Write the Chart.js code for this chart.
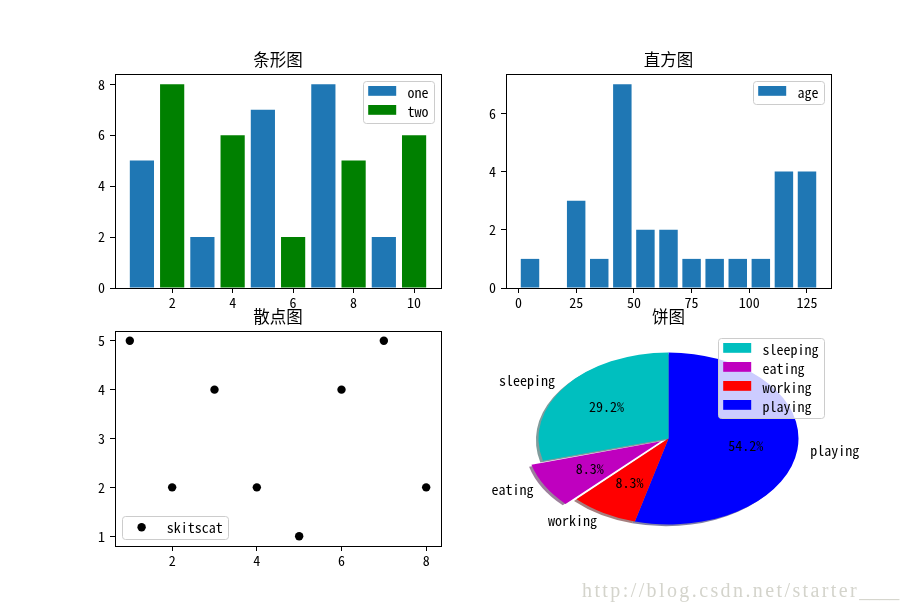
<!DOCTYPE html>
<html>
<head>
<meta charset="utf-8">
<script src="https://cdn.jsdelivr.net/npm/chart.js@4.4.1/dist/chart.umd.min.js"></script>
<style>
body { margin: 0; background: #fff; }
#fig { position: relative; width: 923px; height: 613px; overflow: hidden; }
#fig canvas { position: absolute; left: 0; top: 0; }
#mark { position: absolute; left: 582px; top: 579px; font: 20px "Liberation Serif", serif; color: #d4d4cc; letter-spacing: 2.4px; white-space: nowrap; }
#mark span { letter-spacing: 0; }
</style>
</head>
<body>
<div id="fig">
  <canvas id="bar" width="923" height="613"></canvas>
  <canvas id="hist" width="923" height="613"></canvas>
  <canvas id="scat" width="923" height="613"></canvas>
  <canvas id="pie" width="923" height="613"></canvas>
  <div id="mark">http://blog.csdn.net/starter<span>____</span></div>
</div>
<script>
// --- data ---
const barTitle = '条形图';
const oneX = [1, 3, 5, 7, 9];
const oneY = [5, 2, 7, 8, 2];
const twoX = [2, 4, 6, 8, 10];
const twoY = [8, 6, 2, 5, 6];
const barXTicks = [2, 4, 6, 8, 10];
const barYTicks = [0, 2, 4, 6, 8];

const histTitle = '直方图';
const histEdges = [0, 10, 20, 30, 40, 50, 60, 70, 80, 90, 100, 110, 120, 130];
const histCounts = [1, 0, 3, 1, 7, 2, 2, 1, 1, 1, 1, 4, 4];
const histXTicks = [0, 25, 50, 75, 100, 125];
const histYTicks = [0, 2, 4, 6];

const scatTitle = '散点图';
const scatX = [1, 2, 3, 4, 5, 6, 7, 8];
const scatY = [5, 2, 4, 2, 1, 4, 5, 2];
const scatXTicks = [2, 4, 6, 8];
const scatYTicks = [1, 2, 3, 4, 5];

const pieTitle = '饼图';
const pieLabels = ['sleeping', 'eating', 'working', 'playing'];
const pieValues = [7, 2, 2, 13];
const pieColors = ['#00bfbf', '#bf00bf', '#ff0000', '#0000ff'];
const pieExplode = [0, 0.1, 0, 0];

// --- look ---
const FAMILY = '"Noto Sans Mono CJK SC", "Noto Sans CJK SC", sans-serif';
const FS = 14;
Chart.defaults.font.family = FAMILY;
Chart.defaults.font.size = FS;
Chart.defaults.color = '#000';

// matplotlib 2x2 subplot grid (left .125, right .9, bottom .11, top .88, spacing .2)
const W = 923, H = 613;
function axRect(row, col) {
  const cw = 0.775 * W / 2.2, ch = 0.77 * H / 2.2;
  const left = 0.125 * W + col * cw * 1.2;
  const top = 0.12 * H + row * ch * 1.2;
  return { left: Math.round(left), top: Math.round(top), right: Math.round(left + cw), bottom: Math.round(top + ch) };
}
const YW = 40, XH = 30;
function padFor(r, withAxes) {
  return {
    left: r.left - (withAxes ? YW : 0), top: r.top,
    right: W - r.right, bottom: H - r.bottom - (withAxes ? XH : 0)
  };
}

function axis(min, max, ticks, isY) {
  return {
    type: 'linear', min: min, max: max, offset: false,
    grid: { drawOnChartArea: false, drawTicks: true, tickLength: 5, color: '#000', offset: false },
    border: { display: false },
    ticks: { padding: isY ? 5 : 1, maxRotation: 0, autoSkip: false, font: { size: FS } },
    afterBuildTicks: s => { s.ticks = ticks.map(v => ({ value: v })); },
    afterFit: s => { if (isY) s.width = YW; else s.height = XH; }
  };
}

// title + box frame + legend, drawn the matplotlib way
const mplFrame = {
  id: 'mplFrame',
  afterDraw(chart, args, opts) {
    const a = chart.chartArea, c = chart.ctx;
    c.save();
    if (opts.box) {
      c.strokeStyle = '#000'; c.lineWidth = 1;
      c.strokeRect(Math.round(a.left) + 0.5, Math.round(a.top) + 0.5, Math.round(a.right - a.left), Math.round(a.bottom - a.top));
    }
    c.font = '16.5px ' + FAMILY;
    c.textAlign = 'center'; c.textBaseline = 'middle';
    c.fillStyle = '#000';
    c.fillText(opts.title, (a.left + a.right) / 2, a.top - 14.5);

    // legend
    let items;
    if (chart.config.type === 'pie') {
      const ds = chart.data.datasets[0];
      items = chart.data.labels.map((t, i) => ({ text: t, color: ds.backgroundColor[i], dot: false })).reverse();
    } else {
      items = chart.data.datasets.map(d => ({ text: d.label, color: d.backgroundColor, dot: chart.config.type === 'scatter' }));
    }
    c.font = FS + 'px ' + FAMILY;
    const tw = Math.max(...items.map(it => c.measureText(it.text).width));
    const pad = 0.4 * FS, hl = 2 * FS, gap = 0.8 * FS, pitch = 19;
    const bw = pad * 2 + hl + gap + tw;
    const bh = pad * 2 + items.length * pitch - 0.5 * FS;
    const bx = opts.corner === 'll' ? a.left + 7 : a.right - 7 - bw;
    const by = opts.corner === 'll' ? a.bottom - 7 - bh : a.top + 7;
    c.beginPath();
    c.roundRect(Math.round(bx) + 0.5, Math.round(by) + 0.5, Math.round(bw), Math.round(bh), 3);
    c.fillStyle = 'rgba(255,255,255,0.8)'; c.fill();
    c.strokeStyle = '#cccccc'; c.lineWidth = 1; c.stroke();
    items.forEach((it, i) => {
      const cy = by + 11.5 + i * pitch;
      c.fillStyle = it.color;
      if (it.dot) {
        c.beginPath(); c.arc(bx + pad + hl / 2, cy, 4.2, 0, Math.PI * 2); c.fill();
      } else {
        c.fillRect(bx + pad, cy - 6.5, hl, 0.7 * FS);
      }
      c.fillStyle = '#000'; c.textAlign = 'left'; c.textBaseline = 'middle';
      c.fillText(it.text, bx + pad + hl + gap, cy);
    });
    c.restore();
  }
};

const common = {
  responsive: false, animation: false, events: [],
  plugins: { legend: { display: false }, tooltip: { enabled: false } }
};

// 条形图
const rBar = axRect(0, 0);
new Chart(document.getElementById('bar'), {
  type: 'bar',
  data: {
    datasets: [
      { label: 'one', data: oneX.map((x, i) => ({ x: x, y: oneY[i] })), backgroundColor: '#1f77b4', grouped: false, barPercentage: 0.8, categoryPercentage: 1 },
      { label: 'two', data: twoX.map((x, i) => ({ x: x, y: twoY[i] })), backgroundColor: '#008000', grouped: false, barPercentage: 0.8, categoryPercentage: 1 }
    ]
  },
  options: Object.assign({}, common, {
    layout: { padding: padFor(rBar, true) },
    scales: { x: axis(0.11, 10.89, barXTicks, false), y: axis(0, 8.4, barYTicks, true) },
    plugins: Object.assign({}, common.plugins, { mplFrame: { title: barTitle, box: true, corner: 'ur' } })
  }),
  plugins: [mplFrame]
});

// 直方图
const rHist = axRect(0, 1);
new Chart(document.getElementById('hist'), {
  type: 'bar',
  data: {
    datasets: [
      { label: 'age', data: histCounts.map((n, i) => ({ x: (histEdges[i] + histEdges[i + 1]) / 2, y: n })), backgroundColor: '#1f77b4', grouped: false, barPercentage: 0.8, categoryPercentage: 1 }
    ]
  },
  options: Object.assign({}, common, {
    layout: { padding: padFor(rHist, true) },
    scales: { x: axis(-5.4, 135.4, histXTicks, false), y: axis(0, 7.35, histYTicks, true) },
    plugins: Object.assign({}, common.plugins, { mplFrame: { title: histTitle, box: true, corner: 'ur' } })
  }),
  plugins: [mplFrame]
});

// 散点图
const rScat = axRect(1, 0);
new Chart(document.getElementById('scat'), {
  type: 'scatter',
  data: {
    datasets: [
      { label: 'skitscat', data: scatX.map((x, i) => ({ x: x, y: scatY[i] })), backgroundColor: '#000', borderWidth: 0, pointRadius: 4.2 }
    ]
  },
  options: Object.assign({}, common, {
    layout: { padding: padFor(rScat, true) },
    scales: { x: axis(0.65, 8.35, scatXTicks, false), y: axis(0.8, 5.2, scatYTicks, true) },
    plugins: Object.assign({}, common.plugins, { mplFrame: { title: scatTitle, box: true, corner: 'll' } })
  }),
  plugins: [mplFrame]
});

// 饼图: Chart.js turns clockwise, matplotlib counter-clockwise, so feed it reversed
const rPie = axRect(1, 1);
const RY = (rPie.bottom - rPie.top) / 2.5, RX = (rPie.right - rPie.left) / 2.5;
const SX = RX / RY;
const total = pieValues.reduce((s, v) => s + v, 0);
const revLabels = pieLabels.slice().reverse();
const revValues = pieValues.slice().reverse();
const revColors = pieColors.slice().reverse();
const revExplode = pieExplode.slice().reverse();
// Chart.js moves an arc by offset/4*(2-sin(circ)); undo that so the shift is explode*R
const revOffset = revValues.map((v, i) => {
  const circ = 2 * Math.PI * v / total;
  const k = (2 - Math.sin(Math.min(Math.PI, circ))) / 4;
  return revExplode[i] * RY / k;
});
function shade(hex) {
  const n = parseInt(hex.slice(1), 16);
  return 'rgba(' + [(n >> 16) & 255, (n >> 8) & 255, n & 255].map(v => Math.round(v * 0.3)).join(',') + ',0.5)';
}
const pieShape = {
  id: 'pieShape',
  beforeDatasetsDraw(chart) {
    const c = chart.ctx, arcs = chart.getDatasetMeta(0).data;
    const cx = arcs[0].x, cy = arcs[0].y;
    c.save();
    c.translate(cx, cy); c.scale(SX, 1); c.translate(-cx, -cy);
    arcs.forEach((arc, i) => {
      const mid = (arc.startAngle + arc.endAngle) / 2;
      const off = revExplode[i] * arc.outerRadius;
      const ox = cx + Math.cos(mid) * off - 2.6 / SX, oy = cy + Math.sin(mid) * off + 1.7;
      c.beginPath(); c.moveTo(ox, oy);
      c.arc(ox, oy, arc.outerRadius, arc.startAngle, arc.endAngle);
      c.closePath();
      c.fillStyle = shade(revColors[i]); c.fill();
    });
  },
  afterDatasetsDraw(chart) {
    const c = chart.ctx, arcs = chart.getDatasetMeta(0).data;
    c.restore();
    const cx = arcs[0].x, cy = arcs[0].y;
    c.save();
    c.font = FS + 'px ' + FAMILY; c.fillStyle = '#000'; c.textBaseline = 'middle';
    arcs.forEach((arc, i) => {
      const mid = (arc.startAngle + arc.endAngle) / 2, R = arc.outerRadius;
      const co = Math.cos(mid), si = Math.sin(mid), e = revExplode[i];
      c.textAlign = 'center';
      c.fillText((revValues[i] / total * 100).toFixed(1) + '%', cx + SX * R * (e + 0.6) * co, cy + R * (e + 0.6) * si);
      c.textAlign = co > 0 ? 'left' : 'right';
      c.fillText(revLabels[i], cx + SX * R * (e + 1.1) * co, cy + R * (e + 1.1) * si);
    });
    c.restore();
  }
};
new Chart(document.getElementById('pie'), {
  type: 'pie',
  data: {
    labels: revLabels,
    datasets: [{ data: revValues, backgroundColor: revColors, borderWidth: 0, offset: revOffset, radius: RY }]
  },
  options: Object.assign({}, common, {
    rotation: 0,
    layout: { padding: padFor(rPie, false) },
    plugins: Object.assign({}, common.plugins, { mplFrame: { title: pieTitle, box: false, corner: 'ur' } })
  }),
  plugins: [pieShape, mplFrame]
});
</script>
</body>
</html>
